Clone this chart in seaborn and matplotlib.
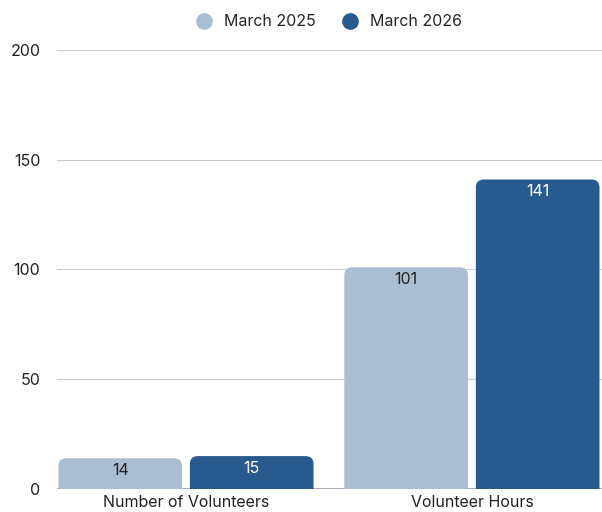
import pandas as pd
import numpy as np
import matplotlib.pyplot as plt
import seaborn as sns
from matplotlib.patches import FancyBboxPatch
from matplotlib.lines import Line2D

categories = ["Number of Volunteers", "Volunteer Hours"]
series = ["March 2025", "March 2026"]
values_2025 = [14, 101]
values_2026 = [15, 141]
colors = ["#A9BDD3", "#285A8F"]
label_colors = ["#222222", "#FFFFFF"]

df = pd.DataFrame({
    "category": categories * 2,
    "period": [series[0]] * 2 + [series[1]] * 2,
    "value": values_2025 + values_2026,
})

sns.set_style("white")
plt.rcParams["font.family"] = ["Inter", "DejaVu Sans"]

fig = plt.figure(figsize=(6.02, 5.12), dpi=100)
ax = fig.add_axes([0.0947, 0.0449, 0.9053, 0.8575])

sns.barplot(data=df, x="category", y="value", hue="period", order=categories,
            hue_order=series, palette=colors, width=0.92, gap=0.06,
            saturation=1, legend=False, ax=ax)

ax.set_xlim(-0.451, 1.455)
ax.set_ylim(0, 200)
ax.set_yticks([0, 50, 100, 150, 200])
ax.grid(axis="y", color="#cccccc", linewidth=0.8)
ax.set_axisbelow(True)
for s in ax.spines.values():
    s.set_visible(False)
ax.axhline(0, color="#9e9e9e", linewidth=1.2, zorder=1)
ax.tick_params(axis="both", length=0, labelsize=11.5, colors="#222222")
ax.tick_params(axis="y", pad=12)
ax.tick_params(axis="x", pad=4)
ax.set_xlabel("")
ax.set_ylabel("")

# rounded top corners: rebuild bars as rounded boxes
fig.canvas.draw()
bbox = ax.get_window_extent()
px_x = bbox.width / (ax.get_xlim()[1] - ax.get_xlim()[0])
px_y = bbox.height / (ax.get_ylim()[1] - ax.get_ylim()[0])
r_px = 8
rx = r_px / px_x
aspect = px_x / px_y

bars = list(ax.patches)
for i, p in enumerate(bars):
    x, w, h = p.get_x(), p.get_width(), p.get_height()
    color = p.get_facecolor()
    p.remove()
    ry = r_px / px_y
    fb = FancyBboxPatch((x, -ry), w, h + ry,
                        boxstyle=f"round,pad=0,rounding_size={rx}",
                        mutation_aspect=aspect, facecolor=color,
                        edgecolor="none", zorder=2)
    ax.add_patch(fb)
    si = i // len(categories)
    ax.annotate(f"{h:g}", (x + w / 2, h), xytext=(0, -3.5),
                textcoords="offset points", ha="center", va="top",
                fontsize=11.5, color=label_colors[si], zorder=3)

handles = [Line2D([0], [0], marker="o", linestyle="", markersize=11,
                  markerfacecolor=c, markeredgecolor=c) for c in colors]
fig.legend(handles, series, loc="upper center", bbox_to_anchor=(0.54, 1.0),
           ncol=2, frameon=False, fontsize=11.5, handletextpad=0.3,
           columnspacing=1.1)

fig.savefig("out.png", dpi=100)
